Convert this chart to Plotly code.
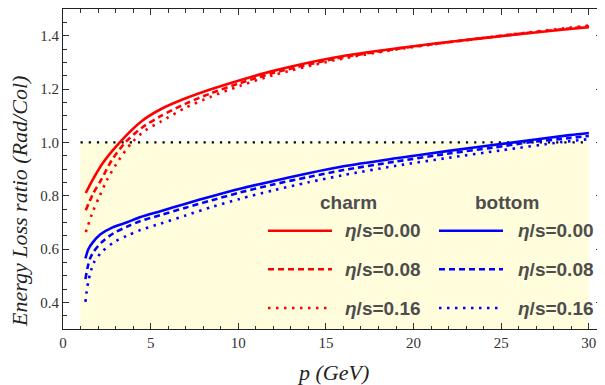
import plotly.graph_objects as go

# ---------------- data ----------------
charm_p_000 = [1.3, 1.7, 2.3, 3.24, 4.5, 5.6, 7, 8.4, 10.1, 12, 15.5, 19, 22.1, 25.5, 28.9, 30]
charm_r_000 = [0.81, 0.86, 0.925, 1.0, 1.08, 1.125, 1.165, 1.198, 1.233, 1.268, 1.318, 1.352, 1.377, 1.402, 1.425, 1.432]

charm_p_008 = [1.3, 1.7, 2.2, 2.8, 3.56, 4.5, 5.56, 7, 8.4, 10.1, 12, 15.5, 19, 22.1, 25.5, 28.9, 30]
charm_r_008 = [0.745, 0.805, 0.862, 0.935, 1.0, 1.055, 1.098, 1.145, 1.183, 1.222, 1.26, 1.313, 1.35, 1.376, 1.403, 1.427, 1.435]

charm_p_016 = [1.3, 1.7, 2.1, 2.52, 3.2, 3.94, 4.7, 5.56, 7, 8.4, 10.1, 12, 15.5, 19, 22.1, 25.5, 28.9, 30]
charm_r_016 = [0.663, 0.74, 0.80, 0.86, 0.935, 1.0, 1.045, 1.077, 1.13, 1.17, 1.212, 1.252, 1.308, 1.348, 1.376, 1.404, 1.43, 1.438]

bottom_p_000 = [1.28, 1.45, 1.7, 2.14, 2.8, 3.66, 4.42, 5.56, 7, 8.5, 10.1, 12, 14, 16, 19, 22, 25.5, 28.9, 30]
bottom_r_000 = [0.565, 0.60, 0.625, 0.655, 0.68, 0.70, 0.72, 0.742, 0.77, 0.798, 0.826, 0.855, 0.884, 0.91, 0.94, 0.968, 0.998, 1.027, 1.035]

bottom_p_008 = [1.28, 1.4, 1.55, 1.75, 2.2, 2.9, 3.66, 4.42, 5.56, 7, 8.5, 10.1, 12, 14, 16, 19, 22, 24.5, 26.6, 28.9, 30]
bottom_r_008 = [0.487, 0.53, 0.565, 0.59, 0.625, 0.66, 0.684, 0.705, 0.727, 0.755, 0.783, 0.812, 0.842, 0.87, 0.896, 0.928, 0.958, 0.98, 1.0, 1.016, 1.024]

bottom_p_016 = [1.28, 1.35, 1.45, 1.6, 1.75, 2.2, 2.9, 3.66, 4.42, 5.56, 7, 8.5, 10.1, 12, 14, 16, 19, 22, 25, 28.35, 30]
bottom_r_016 = [0.402, 0.44, 0.48, 0.52, 0.548, 0.588, 0.625, 0.65, 0.671, 0.695, 0.726, 0.758, 0.788, 0.82, 0.85, 0.877, 0.912, 0.942, 0.97, 1.0, 1.012]

eta_labels = ["0.00", "0.08", "0.16"]
group_names = ["charm", "bottom"]
group_colors = ["#FF0000", "#0000FF"]

band_x = [1, 30]        # shaded region p-range
threshold = 1.0         # ratio = 1 reference line

x_ticks = [0, 5, 10, 15, 20, 25, 30]
y_ticks = [0.4, 0.6, 0.8, 1.0, 1.2, 1.4]

# ---------------- styling ----------------
OFF = 8                      # page body margin
W, H = 605 - OFF, 385 - OFF  # figure size
ML, MR, MT, MB = 63 - OFF, 3, 1, 56
PW, PH = W - ML - MR, H - MT - MB
dash_styles = ["solid", "6px,4px", "2.5px,5.5px"]
line_width = 2.6
text_gray = "#4d4d4d"

def px2paper(px, py):
    """page pixel -> paper coordinates"""
    fx, fy = px - OFF, py - OFF
    return (fx - ML) / PW, (H - MB - fy) / PH

fig = go.Figure()

series = [
    (charm_p_000, charm_r_000, 0, 0), (charm_p_008, charm_r_008, 0, 1), (charm_p_016, charm_r_016, 0, 2),
    (bottom_p_000, bottom_r_000, 1, 0), (bottom_p_008, bottom_r_008, 1, 1), (bottom_p_016, bottom_r_016, 1, 2),
]

# shaded region below ratio 1
fig.add_shape(type="rect", xref="x", yref="y", x0=band_x[0], x1=band_x[1], y0=0.3, y1=threshold,
              fillcolor="rgb(255,253,220)", line_width=0, layer="below")

# dotted reference line
fig.add_trace(go.Scatter(x=band_x, y=[threshold, threshold], mode="lines",
                         line=dict(color="black", width=2.2, dash="2.2px,6px"),
                         showlegend=False, hoverinfo="skip"))

for xs, ys, g, k in series:
    fig.add_trace(go.Scatter(x=xs, y=ys, mode="lines",
                             line=dict(color=group_colors[g], width=line_width, dash=dash_styles[k],
                                       shape="spline", smoothing=0.8),
                             name=f"{group_names[g]} η/s={eta_labels[k]}", showlegend=False))

# ---------------- manual legend ----------------
header_y = 202.7
row_y = [230.7, 269.3, 308.0]
col = [dict(head_cx=348, line_x=(268, 332), text_x=343),
       dict(head_cx=507, line_x=(439, 503), text_x=516)]
legend_font = dict(family="Liberation Sans, Arial, sans-serif", size=19, color=text_gray)
annotations = []
shapes = []
for g, c in enumerate(col):
    hx, hy = px2paper(c["head_cx"], header_y)
    annotations.append(dict(x=hx, y=hy, xref="paper", yref="paper", text=f"<b>{group_names[g]}</b>",
                            showarrow=False, xanchor="center", yanchor="middle", font=legend_font))
    for k in range(3):
        x0, yy = px2paper(c["line_x"][0], row_y[k])
        x1, _ = px2paper(c["line_x"][1], row_y[k])
        shapes.append(dict(type="line", xref="paper", yref="paper", x0=x0, x1=x1, y0=yy, y1=yy,
                           line=dict(color=group_colors[g], width=line_width, dash=dash_styles[k])))
        tx, _ = px2paper(c["text_x"], row_y[k])
        annotations.append(dict(x=tx, y=yy, xref="paper", yref="paper",
                                text=f"<b><i>η</i>/s={eta_labels[k]}</b>",
                                showarrow=False, xanchor="left", yanchor="middle", font=legend_font))

# axis titles
tx, ty = px2paper(19, 202)
annotations.append(dict(x=tx, y=ty, xref="paper", yref="paper", text="<i>Energy Loss ratio (Rad/Col)</i>",
                        textangle=-90, showarrow=False, xanchor="center", yanchor="middle",
                        font=dict(family="Liberation Serif, Times New Roman, serif", size=22, color="#222")))
tx, ty = px2paper(333, 372)
annotations.append(dict(x=tx, y=ty, xref="paper", yref="paper", text="<i>p</i> <i>(GeV)</i>",
                        showarrow=False, xanchor="center", yanchor="middle",
                        font=dict(family="Liberation Serif, Times New Roman, serif", size=22, color="#222")))

for s in shapes:
    fig.add_shape(**s)

axis_common = dict(showline=True, linecolor="#222", linewidth=1, mirror="ticks", ticks="inside",
                   tickcolor="#333", showgrid=False, zeroline=False,
                   tickfont=dict(family="Liberation Serif, Times New Roman, serif", size=15, color="#333"))

fig.update_layout(
    width=W, height=H, margin=dict(l=ML, r=MR, t=MT, b=MB),
    paper_bgcolor="white", plot_bgcolor="white",
    annotations=annotations,
    xaxis=dict(range=[0, 30.75], tickvals=x_ticks, ticklen=6,
               minor=dict(dtick=1, ticklen=3.5, ticks="inside", tickcolor="#333"), **axis_common),
    yaxis=dict(range=[0.3, 1.5], tickvals=y_ticks, ticktext=[f"{v:.1f}" for v in y_ticks], ticklen=6,
               minor=dict(dtick=0.05, tick0=0.3, ticklen=3.5, ticks="inside", tickcolor="#333"), **axis_common),
    showlegend=False,
)

fig.write_html("out.html")
